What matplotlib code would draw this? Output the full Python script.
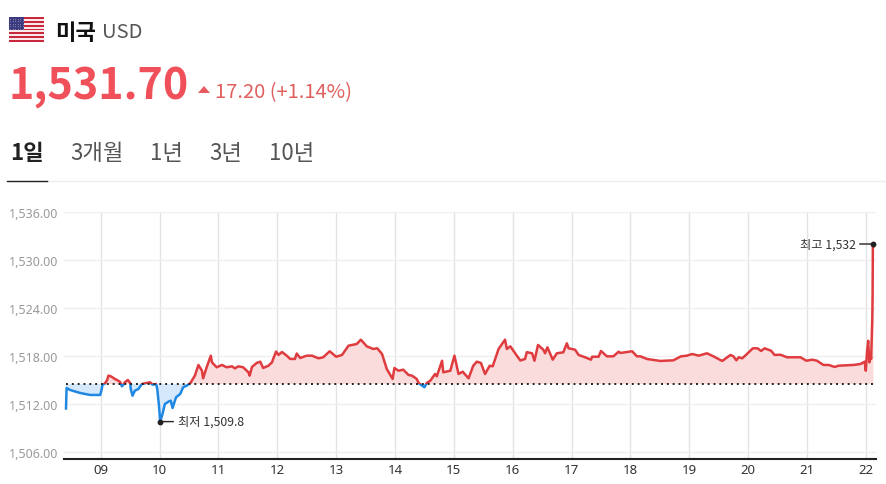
"""
Intraday USD price chart with a quote header and range tabs.
"""

import matplotlib
matplotlib.use("Agg")
import matplotlib.pyplot as plt
from matplotlib.patches import Polygon, Rectangle


# ── Data ──────────────────────────────────────────────────────────────────────

HOURS = [
    8.41, 8.42, 8.48, 8.65, 8.82, 8.99, 9.01, 9.03, 9.07, 9.11, 9.13, 9.16, 9.19, 9.24, 9.29,
    9.33, 9.36, 9.38, 9.41, 9.46, 9.50, 9.51, 9.54, 9.58, 9.64, 9.70, 9.78, 9.84, 9.88, 9.94,
    9.96, 9.99, 10.01, 10.05, 10.09, 10.15, 10.19, 10.22, 10.28, 10.35, 10.40, 10.46, 10.52,
    10.60, 10.66, 10.72, 10.74, 10.80, 10.87, 10.89, 10.97, 11.06, 11.14, 11.23, 11.28, 11.34,
    11.42, 11.51, 11.53, 11.57, 11.65, 11.71, 11.76, 11.85, 11.91, 11.93, 11.98, 12.02, 12.08,
    12.16, 12.22, 12.30, 12.33, 12.39, 12.50, 12.59, 12.70, 12.78, 12.89, 13.00, 13.10, 13.21,
    13.35, 13.42, 13.52, 13.63, 13.70, 13.78, 13.86, 13.96, 13.99, 14.06, 14.14, 14.23, 14.29,
    14.37, 14.40, 14.50, 14.54, 14.60, 14.68, 14.71, 14.80, 14.82, 14.94, 15.01, 15.08, 15.15,
    15.25, 15.33, 15.39, 15.46, 15.53, 15.61, 15.66, 15.76, 15.87, 15.90, 15.96, 16.07, 16.13,
    16.21, 16.24, 16.33, 16.37, 16.43, 16.52, 16.55, 16.59, 16.68, 16.75, 16.86, 16.92, 16.95,
    17.06, 17.12, 17.23, 17.33, 17.35, 17.46, 17.50, 17.60, 17.71, 17.80, 17.83, 18.03, 18.11,
    18.17, 18.28, 18.51, 18.73, 18.86, 18.96, 19.05, 19.16, 19.30, 19.41, 19.56, 19.70, 19.75,
    19.80, 19.84, 19.90, 19.98, 20.08, 20.16, 20.22, 20.28, 20.39, 20.45, 20.55, 20.66, 20.89,
    20.99, 21.09, 21.17, 21.28, 21.37, 21.47, 21.54, 21.79, 21.91, 21.98, 22.00, 22.02, 22.04,
    22.06, 22.08, 22.09, 22.11, 22.115, 22.12, 22.13,
]
PRICES = [
    1511.44, 1514.00, 1513.75, 1513.38, 1513.13, 1513.13, 1513.63, 1514.38, 1514.56, 1515.00,
    1515.54, 1515.50, 1515.38, 1515.13, 1514.94, 1514.75, 1514.21, 1514.38, 1514.71, 1515.00,
    1514.63, 1513.88, 1513.04, 1513.66, 1513.88, 1514.50, 1514.63, 1514.71, 1514.41, 1514.50,
    1513.88, 1511.79, 1509.80, 1510.75, 1512.00, 1512.29, 1512.41, 1511.50, 1512.84, 1513.25,
    1514.09, 1514.29, 1514.59, 1515.54, 1516.88, 1516.16, 1515.21, 1516.59, 1518.04, 1517.21,
    1516.59, 1516.88, 1516.59, 1516.71, 1516.46, 1516.71, 1516.59, 1515.96, 1515.54, 1516.63,
    1517.13, 1517.29, 1516.50, 1516.79, 1517.21, 1517.63, 1518.56, 1518.13, 1518.50, 1518.04,
    1517.63, 1517.63, 1518.31, 1517.75, 1518.04, 1518.04, 1517.71, 1517.84, 1518.59, 1517.91,
    1518.13, 1519.29, 1519.50, 1520.04, 1519.21, 1518.88, 1518.96, 1518.25, 1516.38, 1515.13,
    1516.50, 1516.16, 1516.29, 1515.63, 1515.54, 1515.13, 1514.63, 1514.09, 1514.63, 1514.91,
    1515.75, 1515.46, 1517.41, 1515.96, 1516.16, 1518.04, 1515.75, 1516.04, 1515.21, 1516.79,
    1517.29, 1517.13, 1515.75, 1516.79, 1516.71, 1518.88, 1520.04, 1518.88, 1519.21, 1518.04,
    1517.44, 1517.63, 1518.48, 1518.34, 1517.41, 1519.38, 1518.79, 1518.34, 1519.09, 1517.54,
    1518.34, 1518.46, 1519.59, 1518.96, 1518.79, 1518.13, 1517.84, 1517.54, 1517.91, 1517.91,
    1518.63, 1517.96, 1517.96, 1518.54, 1518.38, 1518.59, 1517.96, 1517.96, 1517.63, 1517.38,
    1517.46, 1517.96, 1518.04, 1518.25, 1518.04, 1518.34, 1517.96, 1517.38, 1518.13, 1517.96,
    1517.46, 1517.84, 1517.71, 1518.25, 1518.96, 1518.96, 1518.63, 1518.96, 1518.66, 1518.13,
    1518.16, 1517.84, 1517.84, 1517.41, 1517.54, 1517.41, 1516.88, 1516.88, 1516.63, 1516.79,
    1516.88, 1517.00, 1517.29, 1516.16, 1518.46, 1519.91, 1517.21, 1518.25, 1517.63, 1522.63,
    1525.60, 1532.00, 1531.70,
]
PREV_CLOSE = 1514.50
LOW_HOUR, LOW_PRICE = 10.01, 1509.8
HIGH_HOUR, HIGH_PRICE = 22.12, 1532.0

Y_TICKS = [1506, 1512, 1518, 1524, 1530, 1536]
X_TICKS = list(range(9, 23))
X_LABELS = [f"{h:02d}" for h in X_TICKS]
TABS = ["1일", "3개월", "1년", "3년", "10년"]

W, H = 886, 485
KR = ["Noto Sans CJK KR", "DejaVu Sans"]
RED, BLUE = "#df3c40", "#1f88e3"
RED_FILL, BLUE_FILL = "#fbdcdd", "#d6e9fc"


def put_text(x, y, s, size, color, weight="normal", ha="left"):
    """Place header text using pixel positions measured from the top left."""
    fig.text(x / W, 1 - y / H, s, fontsize=size, color=color, fontweight=weight,
             ha=ha, va="center", family=KR)


fig = plt.figure(figsize=(W / 100, H / 100), dpi=100, facecolor="white")


# ── Flag ──────────────────────────────────────────────────────────────────────

flag = fig.add_axes([9 / W, 1 - 43 / H, 35 / W, 25 / H])
flag.set_xlim(0, 35)
flag.set_ylim(13, 0)
flag.axis("off")
for i in range(13):
    flag.add_patch(Rectangle((0, i), 35, 1, color="#c8283c" if i % 2 == 0 else "#fbe9ea", lw=0))
flag.add_patch(Rectangle((0, 0), 15, 7, color="#3c3b7e", lw=0))
for row in range(5):
    for col in range(6):
        flag.plot(1.3 + col * 2.5, 0.9 + row * 1.3, "o", ms=0.6, mfc="#b9b9dc", mec="none")


# ── Header ────────────────────────────────────────────────────────────────────

put_text(55, 33, "미국", 16, "#111111", weight="bold")
put_text(102, 33, "USD", 14.5, "#555555")
put_text(8, 86, "1,531.70", 31, "#f0505a", weight="bold")
fig.add_artist(Polygon([(198 / W, 1 - 94 / H), (210 / W, 1 - 94 / H), (204 / W, 1 - 87 / H)],
                       closed=True, color="#e85a5f", lw=0, transform=fig.transFigure))
put_text(215, 93, "17.20 (+1.14%)", 14.5, "#e0605f")

for x, label, weight, color in zip([10, 70, 150, 209, 269], TABS,
                                   ["bold", "normal", "normal", "normal", "normal"],
                                   ["#222222", "#555555", "#555555", "#555555", "#555555"]):
    put_text(x, 153, label, 16, color, weight=weight)

fig.add_artist(plt.Line2D([7 / W, 1], [1 - 181.5 / H] * 2, color="#eeeeee", lw=1))
fig.add_artist(plt.Line2D([7 / W, 47 / W], [1 - 181.5 / H] * 2, color="#222222", lw=1))


# ── Price chart ───────────────────────────────────────────────────────────────

ax = fig.add_axes([64 / W, 1 - 460 / H, 812 / W, 247 / H])
ax.set_xlim(8.376, 22.173)
ax.set_ylim(1505.125, 1536)

ax.set_yticks(Y_TICKS)
ax.set_yticklabels([f"{v:,.2f}" for v in Y_TICKS], fontsize=9, color="#9a9a9a", family="Noto Sans")
ax.set_xticks(X_TICKS)
ax.set_xticklabels(X_LABELS, fontsize=9.5, color="#333333", family="Noto Sans")
ax.tick_params(axis="both", length=0)
ax.tick_params(axis="y", pad=4)
ax.tick_params(axis="x", pad=3)
ax.grid(axis="y", color="#efefef", lw=1)
ax.grid(axis="x", color="#e2e3e9", lw=1)
ax.set_axisbelow(True)
for side in ["top", "left", "right"]:
    ax.spines[side].set_visible(False)
ax.spines["bottom"].set_color("#222222")
ax.spines["bottom"].set_linewidth(1.5)

ax.fill_between(HOURS, PRICES, PREV_CLOSE, where=[p >= PREV_CLOSE for p in PRICES],
                interpolate=True, color=RED_FILL, lw=0, zorder=2)
ax.fill_between(HOURS, PRICES, PREV_CLOSE, where=[p <= PREV_CLOSE for p in PRICES],
                interpolate=True, color=BLUE_FILL, lw=0, zorder=2)

# same series twice, each copy clipped to its side of the previous close
up_line, = ax.plot(HOURS, PRICES, color=RED, lw=1.8, zorder=3, solid_joinstyle="round")
up_line.set_clip_path(Rectangle((8, PREV_CLOSE), 15, 40, transform=ax.transData))
down_line, = ax.plot(HOURS, PRICES, color=BLUE, lw=1.8, zorder=3, solid_joinstyle="round")
down_line.set_clip_path(Rectangle((8, PREV_CLOSE - 40), 15, 40, transform=ax.transData))

ax.plot([HOURS[0], 22.22], [PREV_CLOSE, PREV_CLOSE], color="#222222", lw=1.4,
        linestyle=(0, (1.0, 2.0)), zorder=4)

# low and high markers with a short leader line
ax.plot([LOW_HOUR, HIGH_HOUR], [LOW_PRICE, HIGH_PRICE], "o", ms=3.2, color="#222222",
        zorder=5, clip_on=False)
ax.annotate("최저 1,509.8", xy=(LOW_HOUR, LOW_PRICE), xytext=(12.5, 0),
            textcoords="offset points", fontsize=8.8, color="#333333", family=KR,
            va="center", ha="left",
            arrowprops=dict(arrowstyle="-", color="#222222", lw=1, shrinkA=1, shrinkB=0))
ax.annotate("최고 1,532", xy=(HIGH_HOUR, HIGH_PRICE), xytext=(-12.5, 0),
            textcoords="offset points", fontsize=8.8, color="#333333", family=KR,
            va="center", ha="right",
            arrowprops=dict(arrowstyle="-", color="#222222", lw=1, shrinkA=1, shrinkB=0))

fig.savefig("out.png", dpi=100)
